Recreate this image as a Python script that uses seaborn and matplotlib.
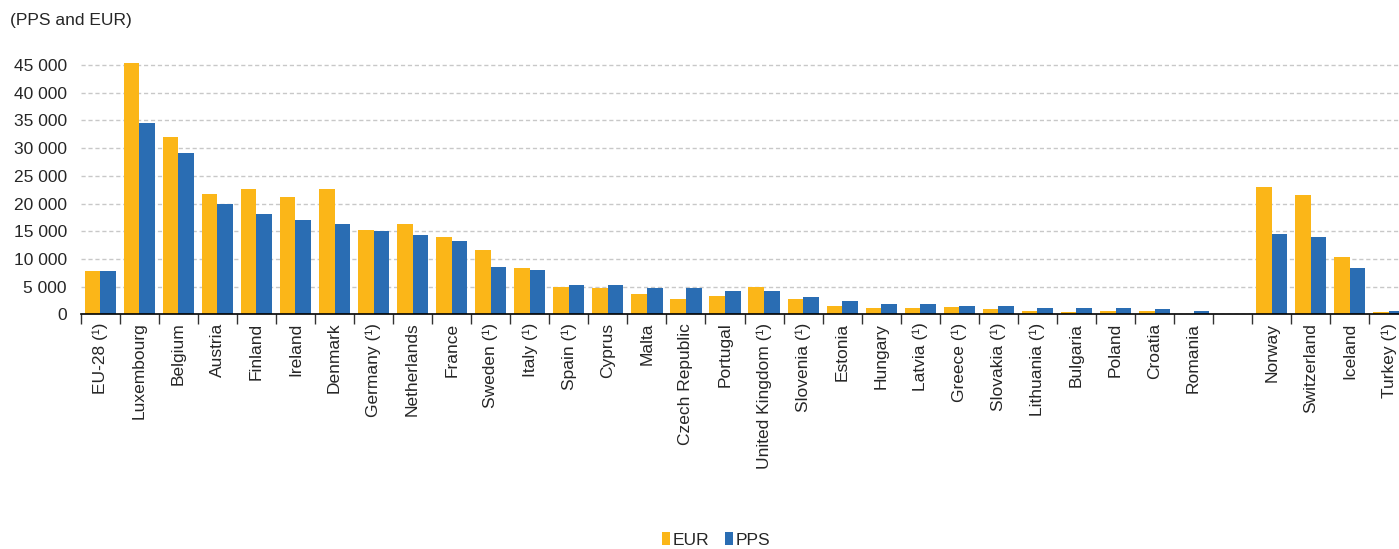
import numpy as np
import pandas as pd
import matplotlib
matplotlib.use("Agg")
import matplotlib.pyplot as plt
import seaborn as sns
from matplotlib.ticker import FuncFormatter, MultipleLocator
from matplotlib.patches import Patch

eu_countries = ["EU-28 (¹)", "Luxembourg", "Belgium", "Austria", "Finland", "Ireland",
                "Denmark", "Germany (¹)", "Netherlands", "France", "Sweden (¹)", "Italy (¹)",
                "Spain (¹)", "Cyprus", "Malta", "Czech Republic", "Portugal",
                "United Kingdom (¹)", "Slovenia (¹)", "Estonia", "Hungary", "Latvia (¹)",
                "Greece (¹)", "Slovakia (¹)", "Lithuania (¹)", "Bulgaria", "Poland",
                "Croatia", "Romania"]
other_countries = ["Norway", "Switzerland", "Iceland", "Turkey (¹)"]

eur_eu = [7800, 45300, 32100, 21800, 22600, 21100, 22600, 15200, 16300, 13900, 11700, 8400,
          5000, 4800, 3700, 2700, 3400, 5000, 2700, 1600, 1150, 1150, 1400, 900, 600, 380,
          600, 600, np.nan]
pps_eu = [7800, 34600, 29200, 20000, 18200, 17000, 16300, 15000, 14400, 13200, 8600, 8100,
          5250, 5250, 4800, 4800, 4200, 4200, 3200, 2400, 1900, 1900, 1600, 1600, 1150, 1150,
          1150, 900, 670]
eur_other = [22900, 21500, 10300, 380]
pps_other = [14450, 13900, 8300, 670]

units = ["EUR", "PPS"]
colors = {"EUR": "#FBB618", "PPS": "#2A6DB3"}

countries = eu_countries + other_countries
df = pd.DataFrame({
    "country": countries * 2,
    "unit": ["EUR"] * len(countries) + ["PPS"] * len(countries),
    "value": eur_eu + eur_other + pps_eu + pps_other,
})
gap = " "
order = eu_countries + [gap] + other_countries

plt.rcParams["font.family"] = ["Liberation Sans", "DejaVu Sans"]
text_color = "#262626"

fig = plt.figure(figsize=(13.99, 5.49), dpi=100)
ax = fig.add_axes([80.7 / 1399, 1 - 314.4 / 549, 34 * 39.05 / 1399, 47 * 5.542 / 549])

sns.barplot(data=df, x="country", y="value", hue="unit", order=order, hue_order=units,
            palette=colors, saturation=1, width=0.8, linewidth=0, ax=ax, legend=False)

ax.set_xlim(-0.5, len(order) - 0.5)
ax.set_ylim(0, 47000)
ax.yaxis.set_major_locator(MultipleLocator(5000))
ax.yaxis.set_major_formatter(FuncFormatter(lambda v, p: f"{int(v):,}".replace(",", " ")))
ax.grid(axis="y", color="#C8C8C8", linestyle=(0, (3, 2)), linewidth=1.0)
ax.grid(axis="x", visible=False)
ax.set_axisbelow(True)
for s in ["left", "right", "top"]:
    ax.spines[s].set_visible(False)
ax.spines["bottom"].set_color("#000000")
ax.spines["bottom"].set_linewidth(1.2)

ax.set_xticks(np.arange(-0.5, len(order), 1), minor=True)
ax.tick_params(axis="x", which="minor", length=7, width=1.0, color="#333333", direction="out")
ax.tick_params(axis="x", which="major", length=0, pad=6, labelsize=12.5, labelcolor=text_color,
               labelrotation=90)
ax.tick_params(axis="y", length=0, pad=10, labelsize=12.5, labelcolor=text_color)
for lbl in ax.get_xticklabels():
    lbl.set_va("top")
ax.set_xlabel("")
ax.set_ylabel("")

fig.text(10 / 1399, 1 - 21 / 549, "(PPS and EUR)", fontsize=12.5, color=text_color,
         ha="left", va="center")

handles = [Patch(facecolor=colors[u], edgecolor="none") for u in units]
fig.legend(handles, units, loc="center", bbox_to_anchor=(716 / 1399, 1 - 540 / 549), ncol=2,
           frameon=False, fontsize=12.5, handlelength=0.45, handleheight=0.75,
           handletextpad=0.15, columnspacing=0.9, labelcolor=text_color)

fig.savefig("out.png", dpi=100)
